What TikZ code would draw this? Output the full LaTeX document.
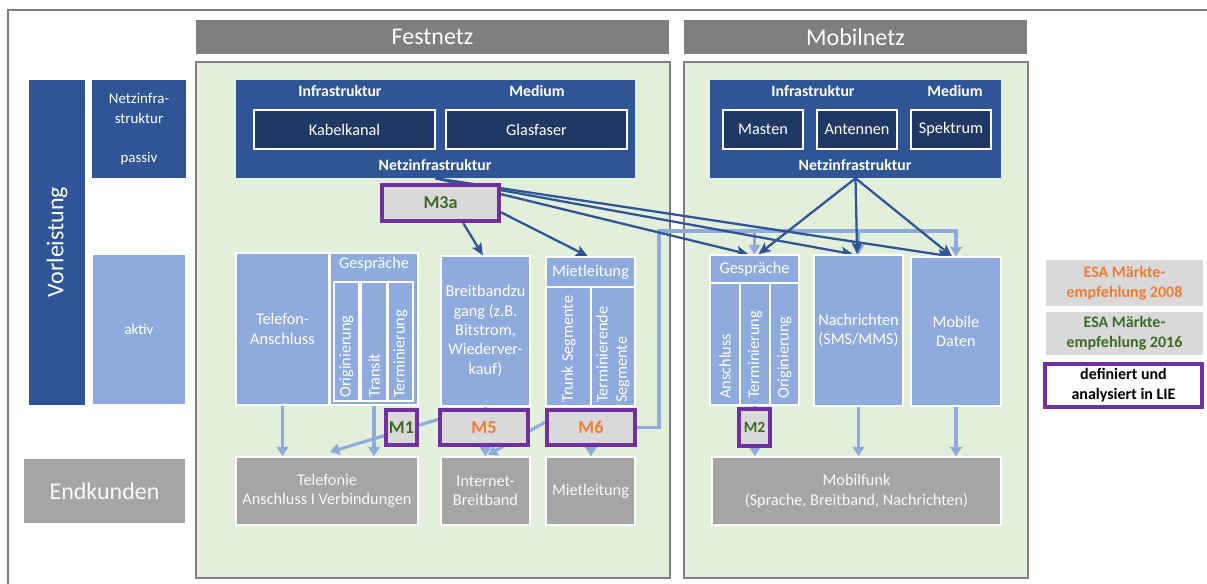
\documentclass[tikz,border=0pt]{standalone}
\usepackage{fontspec}
\setmainfont{Carlito}
\usetikzlibrary{arrows.meta}
\definecolor{dblue}{HTML}{2F5597}
\definecolor{ddblue}{HTML}{1F3864}
\definecolor{lblue}{HTML}{8FAADC}
\definecolor{pgreen}{HTML}{E2EFDA}
\definecolor{hgray}{HTML}{7F7F7F}
\definecolor{egray}{HTML}{A5A5A5}
\definecolor{mgray}{HTML}{D9D9D9}
\definecolor{mpurple}{HTML}{7030A0}
\definecolor{morange}{HTML}{ED7D31}
\definecolor{mgreen}{HTML}{3E6B26}
\pgfdeclarelayer{bg}\pgfdeclarelayer{ln}\pgfsetlayers{bg,ln,main}
\newcommand\bxx[7]{\node[#2,minimum width={(#5-#3)*0.75pt},minimum height={(#6-#4)*0.75pt}] (#1) at ({(#3+#5)/2},{(#4+#6)/2}) {#7};}
\newcommand\fnorm{\fontsize{12.2}{14.6}\selectfont}
\newcommand\fsmall{\fontsize{11.2}{14.6}\selectfont}
\newcommand\fbig{\fontsize{18}{20}\selectfont}
\newcommand\ftit{\bfseries\fontsize{11.8}{14}\selectfont}
\newcommand\fM{\bfseries\fontsize{13.6}{15}\selectfont}
\newcommand\fleg{\bfseries\fontsize{12}{15}\selectfont}
\begin{document}
\begin{tikzpicture}[x=0.75pt,y=-0.75pt,
 box/.style={rectangle,inner sep=1pt,align=center,text=white,font=\fnorm},
 lbx/.style={box,fill=lblue,draw=white,line width=1.1pt},
 dbx/.style={box,fill=dblue},
 ibx/.style={box,fill=ddblue,draw=white,line width=1.1pt},
 ebx/.style={box,fill=egray,draw=white,line width=1.1pt,text=white!95!gray},
 hbx/.style={box,fill=hgray,font=\fbig},
 pnl/.style={rectangle,fill=pgreen,draw=hgray,line width=1.1pt},
 mbx/.style={rectangle,fill=mgray,draw=mpurple,line width=3pt,font=\fM,inner sep=0pt},
 txt/.style={inner sep=0pt,text=white,font=\fnorm,align=center},
 ttl/.style={txt,font=\ftit},
 rot/.style={txt,rotate=90,anchor=west,align=left},
 darr/.style={draw=dblue,line width=1.7pt,-{Stealth[length=9pt,width=8pt,inset=2pt]}},
 lline/.style={draw=lblue,line width=2.3pt},
 larr/.style={lline,-{Triangle[length=7pt,width=8.5pt]}},
]
\useasboundingbox (0,0) rectangle (1207,584);
\begin{pgfonlayer}{bg}
\fill[white] (0,0) rectangle (1207,584);
\draw[hgray,line width=0.8pt] (8,10) rectangle (1230,600);
\bxx{fpan}{pnl}{196}{62}{670}{578}{}
\bxx{mpan}{pnl}{684}{62}{1028}{578}{}
\end{pgfonlayer}
% headers
\bxx{fhead}{hbx}{196}{20}{669}{54}{Festnetz}
\bxx{mhead}{hbx}{684}{20}{1027}{54}{Mobilnetz}
% left column
\bxx{vorl}{dbx}{29}{80}{85}{405}{}
\node[txt,font=\fbig,rotate=90] (vorlt) at (57,242) {Vorleistung};
\bxx{passiv}{dbx,font=\fsmall}{92}{80}{186}{178}{Netzinfra-\\struktur\\[14.6pt]passiv}
\bxx{aktiv}{lbx,font=\fsmall}{92}{254}{186}{405}{aktiv}
\bxx{endk}{ebx,font=\fbig}{23}{458}{186}{524}{Endkunden}
% Festnetz infrastructure
\bxx{fni}{dbx}{236}{80}{635}{178}{}
\node[ttl] (fni1) at (340,91) {Infrastruktur};
\node[ttl] (fni2) at (537,91) {Medium};
\bxx{kabel}{ibx}{254}{110}{435}{149}{Kabelkanal}
\bxx{glas}{ibx}{446}{110}{627}{149}{Glasfaser}
\node[ttl] (fni3) at (435,165) {Netzinfrastruktur};
% Mobilnetz infrastructure
\bxx{mni}{dbx}{710}{80}{1001}{178}{}
\node[ttl] (mni1) at (813,91) {Infrastruktur};
\node[ttl] (mni2) at (955,91) {Medium};
\bxx{masten}{ibx}{723}{110}{803}{149}{Masten}
\bxx{anten}{ibx}{817}{110}{897}{149}{Antennen}
\bxx{spek}{ibx}{911}{110}{991}{149}{Spektrum}
\node[ttl] (mni3) at (855,165) {Netzinfrastruktur};
% Festnetz aktiv
\bxx{tel}{lbx}{236}{253}{329}{405}{Telefon-\\Anschluss}
\bxx{fgesp}{lbx}{330}{253}{418}{405}{}
\node[txt] (fgespt) at (374,264) {Gespräche};
\bxx{forig}{lbx}{334}{282}{359}{401}{}
\bxx{ftran}{lbx}{361}{282}{387}{401}{}
\bxx{fterm}{lbx}{388}{282}{413}{401}{}
\node[rot] (forigt) at (346.5,398) {Originierung};
\node[rot] (ftrant) at (374,398) {Transit};
\node[rot] (ftermt) at (400.5,398) {Terminierung};
\bxx{bb}{lbx}{441}{256}{530}{406}{Breitbandzu\\gang (z.B.\\Bitstrom,\\Wiederver-\\kauf)}
\bxx{mlh}{lbx}{546}{257}{635}{287}{Mietleitung}
\bxx{trunk}{lbx}{546}{287}{591}{406}{}
\bxx{termseg}{lbx}{591}{287}{635}{406}{}
\node[rot] (trunkt) at (568.5,403) {Trunk Segmente};
\node[rot] (termsegt) at (613,403) {Terminierende\\Segmente};
% Endkunden
\bxx{telef}{ebx}{236}{457}{418}{525}{Telefonie\\Anschluss I Verbindungen}
\bxx{inet}{ebx}{441}{457}{530}{525}{Internet-\\Breitband}
\bxx{mietend}{ebx}{546}{457}{635}{525}{Mietleitung}
\bxx{mfunk}{ebx}{712}{457}{1001}{525}{Mobilfunk\\(Sprache, Breitband, Nachrichten)}
% Mobilnetz aktiv
\bxx{mgesp}{lbx}{710}{255}{799}{283}{Gespräche}
\bxx{manschl}{lbx}{710}{283}{740}{405}{}
\bxx{mterm}{lbx}{740}{283}{770}{405}{}
\bxx{morig}{lbx}{770}{283}{799}{405}{}
\node[rot] (manschlt) at (725,399) {Anschluss};
\node[rot] (mtermt) at (755,399) {Terminierung};
\node[rot] (morigt) at (784.5,399) {Originierung};
\bxx{mnach}{lbx}{814}{255}{903}{406}{Nachrichten\\(SMS/MMS)}
\bxx{mdat}{lbx}{911}{257}{1001}{406}{Mobile\\Daten}
% M boxes
\bxx{M3a}{mbx,text=mgreen}{382}{185}{499}{221}{M3a}
\bxx{M1}{mbx,text=mgreen}{386}{410}{417}{445}{M1}
\bxx{M5}{mbx,text=morange}{440}{410}{528}{445}{M5}
\bxx{M6}{mbx,text=morange}{547}{410}{635}{445}{M6}
\bxx{M2}{mbx,text=mgreen,font=\bfseries\fontsize{11.6}{13}\selectfont}{739}{409}{770}{446}{M2}
% legend
\bxx{leg1}{box,fill=mgray,text=morange,font=\fleg}{1046}{260}{1203}{306}{ESA Märkte-\\empfehlung 2008}
\bxx{leg2}{box,fill=mgray,text=mgreen,font=\fleg}{1046}{312}{1203}{355}{ESA Märkte-\\empfehlung 2016}
\bxx{leg3}{box,fill=white,draw=mpurple,line width=3pt,text=black,font=\fleg}{1045}{364}{1202}{407}{definiert und\\analysiert in LIE}
% connectors
\begin{pgfonlayer}{ln}
\coordinate (lA) at (659,231);
\coordinate (t1) at (330,452);
\coordinate (t2) at (488,455);
\draw[larr] (M6.east) -| (lA) -| (mdat.north);
\draw[larr] (lA -| mgesp.north) -- (mgesp.north);
\draw[larr] (lA -| mnach.north) -- (mnach.north);
\draw[darr] (fni.south) -- ([xshift=-4.5pt]mgesp.north);
\draw[darr] (fni.south) -- ([xshift=-4pt]mnach.north);
\draw[darr] (fni.south) -- ([xshift=-4.5pt]mdat.north);
\draw[darr] ([xshift=17pt]M3a.south) -- ([xshift=-2pt]bb.north);
\draw[darr] ([yshift=-7pt]M3a.east) -- ([xshift=-2pt]mlh.north);
\draw[darr] (mni.south) -- ([xshift=3pt]mgesp.north);
\draw[darr] (mni.south) -- ([xshift=-1pt]mnach.north);
\draw[darr] (mni.south) -- ([xshift=-3pt]mdat.north);
\draw[larr] (tel.south) -- (tel.south |- telef.north);
\draw[larr] (fgesp.south) -- (fgesp.south |- telef.north);
\draw[larr] ([yshift=6pt]M5.west) -- (t1);
\draw[larr] (bb.south) -- (bb.south |- inet.north);
\draw[larr] ([yshift=4pt]M6.west) -- (t2);
\draw[larr] (M6.south) -- (M6.south |- mietend.north);
\draw[larr] (mterm.south) -- (mterm.south |- mfunk.north);
\draw[larr] (mnach.south) -- (mnach.south |- mfunk.north);
\draw[larr] (mdat.south) -- (mdat.south |- mfunk.north);
\end{pgfonlayer}
\end{tikzpicture}
\end{document}
